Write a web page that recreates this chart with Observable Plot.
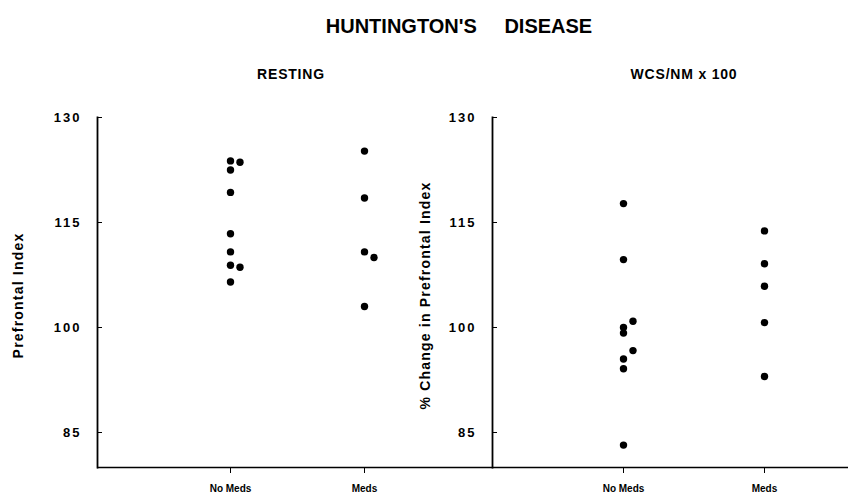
<!DOCTYPE html>
<html><head><meta charset="utf-8">
<script src="https://cdn.jsdelivr.net/npm/d3@7"></script>
<script src="https://cdn.jsdelivr.net/npm/@observablehq/plot@0.6"></script>
<style>
body{margin:0;background:#fff;}
#wrap{position:relative;width:858px;height:495px;overflow:hidden;font-family:"Liberation Sans",Arial,sans-serif;background:#fff;}
.t{position:absolute;font-weight:bold;white-space:pre;color:#000;line-height:1;}
#title{font-size:20px;left:459px;top:16px;transform:translateX(-50%);word-spacing:22px;}
.sub{font-size:14px;top:67px;transform:translateX(-50%);letter-spacing:0.8px;}
.panel{position:absolute;top:0;}
.panel svg{overflow:visible;}
[aria-label="y-axis tick label"] text{letter-spacing:2px;}
.ylab text{letter-spacing:1.2px;}
</style></head><body>
<div id="wrap"></div>
<script>
const title = "HUNTINGTON'S DISEASE";
const panelTitles = ["RESTING", "WCS/NM x 100"];
const yLabels = ["Prefrontal Index", "% Change in Prefrontal Index"];
const groups = ["No Meds", "Meds"];
const yTicks = [85, 100, 115, 130];

// RESTING panel: main column values and side-by-side (offset) values
const restNoMeds = [123.8, 122.5, 119.3, 113.4, 110.8, 108.9, 106.5];
const restNoMedsSide = [123.6, 108.6];
const restMeds = [125.2, 118.5, 110.8, 103.0];
const restMedsSide = [110.0];

// WCS/NM x 100 panel
const wcsNoMeds = [117.7, 109.7, 100.0, 99.2, 95.5, 94.1, 83.2];
const wcsNoMedsSide = [100.9, 96.7];
const wcsMeds = [113.8, 109.1, 105.9, 100.7, 93.0];
const wcsMedsSide = [];

function rows(noMeds, noMedsSide, meds, medsSide) {
  return [
    ...noMeds.map(v => ({group: groups[0], value: v, side: false})),
    ...noMedsSide.map(v => ({group: groups[0], value: v, side: true})),
    ...meds.map(v => ({group: groups[1], value: v, side: false})),
    ...medsSide.map(v => ({group: groups[1], value: v, side: true}))
  ];
}

const font = '"Liberation Sans", Arial, sans-serif';
const wrap = document.getElementById("wrap");

const tEl = document.createElement("div");
tEl.className = "t"; tEl.id = "title"; tEl.textContent = title;
wrap.appendChild(tEl);

function panel({data, left, width, marginLeft, marginRight, xRange, yLabel, labelDx}) {
  const chart = Plot.plot({
    width, height: 495,
    marginLeft, marginRight, marginTop: 117, marginBottom: 28,
    style: {background: "transparent", fontFamily: font, color: "black", overflow: "visible"},
    x: {type: "point", domain: groups, range: xRange, padding: 0},
    y: {domain: [80, 130]},
    marks: [
      Plot.frame({anchor: "left", stroke: "black", strokeWidth: 1.8}),
      Plot.ruleY([80], {stroke: "black", strokeWidth: 1.6}),
      Plot.axisY(yTicks, {tickSize: -5, tickPadding: 21, fontSize: 13, fontWeight: "bold", label: null, stroke: "black"}),
      Plot.axisX({tickSize: 6, tickPadding: 11, fontSize: 10, fontWeight: "bold", label: null}),
      Plot.text([yLabel], {frameAnchor: "left", textAnchor: "middle", rotate: -90, dx: labelDx, dy: 3, fontSize: 14, fontWeight: "bold", fill: "black", className: "ylab"}),
      Plot.dot(data.filter(d => !d.side), {x: "group", y: "value", r: 3.7, fill: "black", stroke: null}),
      Plot.dot(data.filter(d => d.side), {x: "group", y: "value", r: 3.7, fill: "black", stroke: null, dx: 9.5})
    ]
  });
  const div = document.createElement("div");
  div.className = "panel";
  div.style.left = left + "px";
  div.appendChild(chart);
  wrap.appendChild(div);
}

panel({
  data: rows(restNoMeds, restNoMedsSide, restMeds, restMedsSide),
  left: 0, width: 492, marginLeft: 97, marginRight: 0,
  xRange: [230, 364], yLabel: yLabels[0], labelDx: -79
});
panel({
  data: rows(wcsNoMeds, wcsNoMedsSide, wcsMeds, wcsMedsSide),
  left: 400, width: 458, marginLeft: 92, marginRight: 10,
  xRange: [223, 364], yLabel: yLabels[1], labelDx: -67
});

const subPos = [291, 684];
panelTitles.forEach((s, i) => {
  const el = document.createElement("div");
  el.className = "t sub";
  el.style.left = subPos[i] + "px";
  el.textContent = s;
  wrap.appendChild(el);
});
</script>
</body></html>
